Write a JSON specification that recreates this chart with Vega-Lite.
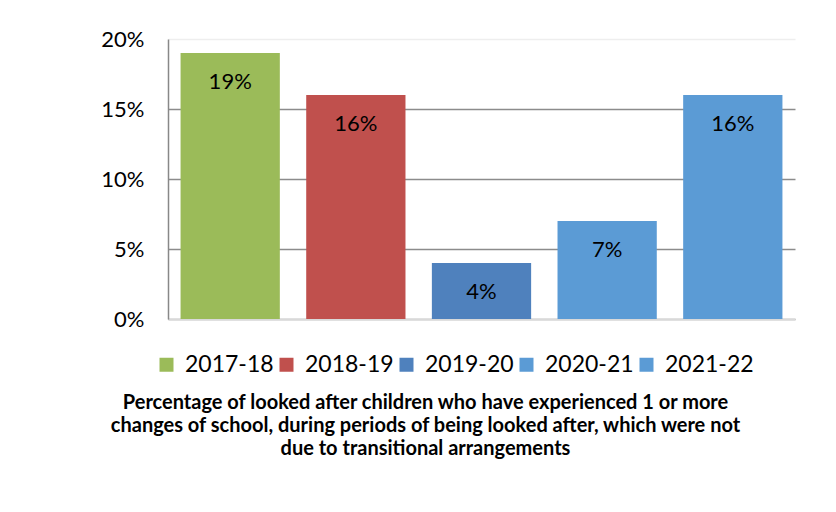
{
  "$schema": "https://vega.github.io/schema/vega-lite/v6.json",
  "width": 627,
  "height": 280,
  "autosize": {"type": "none"},
  "padding": {"left": 168, "top": 39, "right": 41, "bottom": 193},
  "background": "white",
  "data": {
    "values": [
      {"year": "2017-18", "pct": 0.19},
      {"year": "2018-19", "pct": 0.16},
      {"year": "2019-20", "pct": 0.04},
      {"year": "2020-21", "pct": 0.07},
      {"year": "2021-22", "pct": 0.16}
    ]
  },
  "title": {
    "text": ["Percentage of looked after children who have experienced 1 or more", "changes of school, during periods of being looked after, which were not", "due to transitional arrangements"],
    "orient": "bottom",
    "anchor": "middle",
    "font": "Lato",
    "fontSize": 20,
    "fontWeight": "bold",
    "color": "black",
    "lineHeight": 23,
    "offset": 16,
    "dx": -56
  },
  "encoding": {
    "x": {
      "field": "year",
      "type": "nominal",
      "sort": null,
      "scale": {"paddingInner": 0.21, "paddingOuter": 0.1},
      "axis": {"labels": false, "ticks": false, "title": null, "domainColor": "#d9d9d9", "domainWidth": 1.5}
    },
    "y": {
      "field": "pct",
      "type": "quantitative",
      "scale": {"domain": [0, 0.2], "nice": false},
      "axis": {
        "values": [0, 0.05, 0.1, 0.15, 0.2],
        "format": ".0%",
        "title": null,
        "ticks": false,
        "labelFont": "Lato",
        "labelFontSize": 22,
        "labelColor": "black",
        "labelPadding": 24,
        "domainColor": "#888888",
        "domainWidth": 1.5,
        "gridColor": {"condition": {"test": "datum.value == 0.2", "value": "#eeeeee"}, "value": "#8c8c8c"},
        "gridWidth": 1.5
      }
    }
  },
  "layer": [
    {
      "mark": {"type": "bar"},
      "encoding": {
        "color": {
          "field": "year",
          "type": "nominal",
          "sort": null,
          "scale": {
            "domain": ["2017-18", "2018-19", "2019-20", "2020-21", "2021-22"],
            "range": ["#9BBB59", "#C0504D", "#4F81BD", "#5B9BD5", "#5B9BD5"]
          },
          "legend": {
            "orient": "none",
            "legendX": -13,
            "legendY": 314,
            "direction": "horizontal",
            "title": null,
            "symbolType": "square",
            "symbolSize": 196,
            "symbolStrokeWidth": 0,
            "labelFont": "Lato",
            "labelFontSize": 23,
            "labelColor": "black",
            "labelOffset": 7,
            "columnPadding": 1
          }
        }
      }
    },
    {
      "mark": {"type": "text", "dy": 29, "baseline": "middle", "font": "Lato", "fontSize": 22, "color": "black"},
      "encoding": {
        "text": {"field": "pct", "type": "quantitative", "format": ".0%"}
      }
    }
  ],
  "config": {
    "view": {"stroke": null}
  }
}
